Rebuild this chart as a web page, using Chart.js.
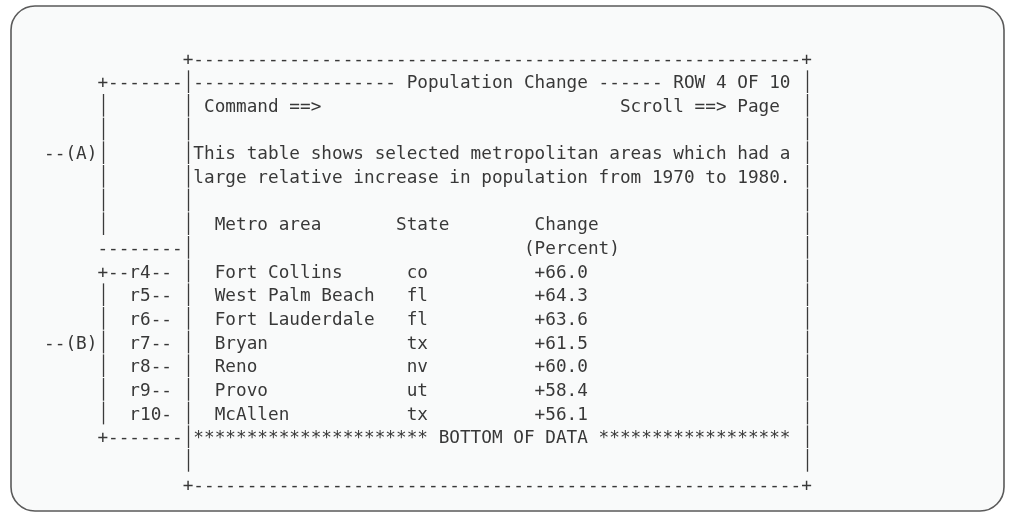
<!DOCTYPE html>
<html><head><meta charset="utf-8">
<script src="https://cdn.jsdelivr.net/npm/chart.js@4.4.1/dist/chart.umd.min.js"></script>
<style>
html,body{margin:0;padding:0;background:#fff;}
#wrap{position:relative;width:1011px;height:514px;}
</style></head><body>
<div id="wrap"><canvas id="c"></canvas></div>
<script>
// ---- data ----
const panelTitle = 'Population Change';
const rowIndicator = 'ROW 4 OF 10';
const commandPrompt = 'Command ==>';
const scrollPrompt = 'Scroll ==> Page';
const descriptionLines = [
  'This table shows selected metropolitan areas which had a',
  'large relative increase in population from 1970 to 1980.'
];
const columnHeaders = ['Metro area', 'State', 'Change'];
const unitLabel = '(Percent)';
const rowIds = ['r4', 'r5', 'r6', 'r7', 'r8', 'r9', 'r10'];
const metroAreas = ['Fort Collins', 'West Palm Beach', 'Fort Lauderdale', 'Bryan', 'Reno', 'Provo', 'McAllen'];
const states = ['co', 'fl', 'fl', 'tx', 'nv', 'ut', 'tx'];
const changes = [66.0, 64.3, 63.6, 61.5, 60.0, 58.4, 56.1];
const calloutLabels = ['--(A)', '--(B)'];
const endMarker = 'BOTTOM OF DATA';

// ---- build the character screen (column, row grid) ----
const cells = [];
function put(row, col, s) {
  for (let i = 0; i < s.length; i++) {
    if (s[i] !== ' ') cells.push({ x: col + i, y: row, ch: s[i] });
  }
}
const rep = (c, n) => c.repeat(n);
const W = 57; // inner width of the screen
put(0, 16, '+' + rep('-', W) + '+');
put(1, 8, '+-------|' + rep('-', 19) + ' ' + panelTitle + ' ' + rep('-', 6) + ' ' + rowIndicator + ' |');
put(2, 8, '|'); put(2, 16, '|'); put(2, 18, commandPrompt); put(2, 57, scrollPrompt); put(2, 74, '|');
put(3, 8, '|'); put(3, 16, '|'); put(3, 74, '|');
put(4, 3, calloutLabels[0] + '|'); put(4, 16, '|' + descriptionLines[0]); put(4, 74, '|');
put(5, 8, '|'); put(5, 16, '|' + descriptionLines[1]); put(5, 74, '|');
put(6, 8, '|'); put(6, 16, '|'); put(6, 74, '|');
put(7, 8, '|'); put(7, 16, '|'); put(7, 19, columnHeaders[0]); put(7, 36, columnHeaders[1]); put(7, 49, columnHeaders[2]); put(7, 74, '|');
put(8, 8, '--------|'); put(8, 48, unitLabel); put(8, 74, '|');
for (let i = 0; i < metroAreas.length; i++) {
  const r = 9 + i;
  const id = (rowIds[i] + '----').slice(0, 4);
  if (i === 0) put(r, 8, '+--' + rowIds[i] + '--');
  else { put(r, 8, '|'); put(r, 11, id); }
  if (i === 3) put(r, 3, calloutLabels[1]);
  put(r, 16, '|');
  put(r, 19, metroAreas[i]);
  put(r, 37, states[i]);
  put(r, 49, '+' + changes[i].toFixed(1));
  put(r, 74, '|');
}
put(16, 8, '+-------|' + rep('*', 22) + ' ' + endMarker + ' ' + rep('*', 18)); put(16, 74, '|');
put(17, 16, '|'); put(17, 74, '|');
put(18, 16, '+' + rep('-', W) + '+');

// ---- drawing ----
const TEXT = '#383838';
const framePlugin = {
  id: 'frame',
  beforeDraw(chart) {
    const ctx = chart.ctx;
    ctx.save();
    ctx.fillStyle = '#ffffff';
    ctx.fillRect(0, 0, chart.width, chart.height);
    ctx.beginPath();
    ctx.roundRect(11, 6, 993, 505, 24);
    ctx.fillStyle = '#f9fafa';
    ctx.fill();
    ctx.lineWidth = 1.6;
    ctx.strokeStyle = '#5a5a5a';
    ctx.stroke();
    ctx.restore();
  }
};
const screenPlugin = {
  id: 'screen',
  afterDatasetsDraw(chart) {
    const ctx = chart.ctx;
    const ys = chart.scales.y;
    const cellH = Math.abs(ys.getPixelForValue(1) - ys.getPixelForValue(0));
    const meta = chart.getDatasetMeta(0);
    const data = chart.data.datasets[0].data;
    ctx.save();
    ctx.font = '17.7px "DejaVu Sans Mono", monospace';
    ctx.textAlign = 'center';
    ctx.textBaseline = 'alphabetic';
    ctx.fillStyle = TEXT;
    ctx.strokeStyle = '#3a3a3a';
    ctx.lineWidth = 1.3;
    meta.data.forEach((el, i) => {
      const d = data[i];
      const px = Math.round(el.x) + 0.5;
      if (d.ch === '|') {
        ctx.beginPath();
        ctx.moveTo(px, el.y - cellH / 2 + 0.5);
        ctx.lineTo(px, el.y + cellH / 2 - 0.5);
        ctx.stroke();
      } else {
        ctx.fillText(d.ch, el.x, el.y + 6.5);
      }
    });
    ctx.restore();
  }
};

new Chart(document.getElementById('c'), {
  type: 'scatter',
  data: { datasets: [{ data: cells, pointRadius: 0, pointHoverRadius: 0, showLine: false }] },
  options: {
    responsive: true,
    maintainAspectRatio: false,
    animation: false,
    events: [],
    layout: { padding: 0 },
    plugins: { legend: { display: false }, tooltip: { enabled: false } },
    scales: {
      x: { type: 'linear', display: false, min: -17.39 / 10.664, max: (1011 - 17.39) / 10.664 },
      y: { type: 'linear', display: false, reverse: true, min: -58 / 23.67, max: (514 - 58) / 23.67 }
    }
  },
  plugins: [framePlugin, screenPlugin]
});
</script>
</body></html>
